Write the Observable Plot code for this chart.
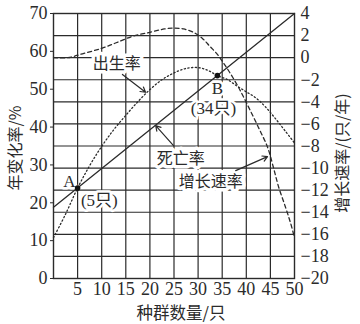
<!DOCTYPE html>
<html>
<head>
<meta charset="utf-8">
<script src="https://cdn.jsdelivr.net/npm/d3@7"></script>
<script src="https://cdn.jsdelivr.net/npm/@observablehq/plot@0.6"></script>
<style>
  html, body { margin: 0; padding: 0; background: #fff; }
</style>
</head>
<body>
<div id="chart"></div>
<script>
// 出生率 (%) against 种群数量 (只)
const birthRate = [
  [0, 10.8], [2.5, 17.0], [5, 23.9], [7.5, 29.8], [10, 34.9], [12.5, 39.3],
  [15, 43.1], [17.5, 46.7], [20, 49.9], [22.5, 52.5], [25, 54.3], [27.5, 55.5],
  [30, 55.7], [32, 55.0], [34, 53.6], [36, 52.6], [38, 50.9], [40, 49.3],
  [42, 47.7], [44, 45.3], [46, 42.3], [48, 39.1], [50, 35.8]
];
// 死亡率 (%) — straight line
const deathRate = [[0, 18.8], [50, 70]];
// 增长速率 (只/年), read on the right axis
const growthRate = [
  [0, 0], [3, 0], [6, 0.35], [10, 0.85], [13, 1.35], [16.5, 1.95], [20, 2.3],
  [23, 2.6], [25, 2.68], [27, 2.6], [29, 2.3], [31, 1.7], [32.5, 1.0], [34, 0.3],
  [35.3, -0.5], [36.5, -1.3], [38.4, -2.7], [40.5, -4.5], [42.5, -6.3],
  [44.4, -8.1], [45.6, -9.9], [46.7, -11.7], [48.1, -13.5], [49.2, -15], [50, -16.3]
];
// marked intersections
const markedPoints = [
  {x: 5, y: 23.9, name: "A", note: "(5只)"},
  {x: 34, y: 53.6, name: "B", note: "(34只)"}
];

// tick labels
const xTicks = [5, 10, 15, 20, 25, 30, 35, 40, 45, 50];
const leftTicks = [0, 10, 20, 30, 40, 50, 60, 70];
const rightTicks = [-20, -18, -16, -14, -12, -10, -8, -6, -4, -2, 0, 2, 4];

// text annotations (data coordinates, right-axis curve labels in left units)
const curveLabels = [
  {text: "出生率", x: 13.1, y: 56.8},
  {text: "死亡率", x: 26.4, y: 31.7},
  {text: "增长速率", x: 32.6, y: 25.4}
];
const pointerArrows = [
  {x1: 14.3, y1: 53.9, x2: 19.1, y2: 49.2},
  {x1: 24.9, y1: 35.1, x2: 21.2, y2: 40.4},
  {x1: 37.8, y1: 28.5, x2: 44.4, y2: 32.2}
];
const pointLabels = [
  {text: "A", x: 3.3, y: 25.6},
  {text: "(5只)", x: 9.5, y: 20.6},
  {text: "B", x: 34.0, y: 50.3},
  {text: "(34只)", x: 33.2, y: 45.0}
];

// right axis (-20 … 4 只/年) shares the frame with the left axis (0 … 70 %)
const rMin = -20, rMax = 4, lMax = 70;
const toLeft = v => (v - rMin) * lMax / (rMax - rMin);
const fromLeft = d => Math.round(d * (rMax - rMin) / lMax + rMin);
const signed = v => (v < 0 ? "\u2212" + Math.abs(v) : String(v));

const ink = "#2b2b2b";
const serif = "'Liberation Serif', 'Noto Sans CJK SC', serif";
const cjk = "'Noto Sans CJK SC', 'Liberation Serif', sans-serif";

const chart = Plot.plot({
  width: 360,
  height: 324,
  marginLeft: 53,
  marginRight: 66,
  marginTop: 13,
  marginBottom: 46,
  x: {domain: [0, 50]},
  y: {domain: [0, lMax]},
  style: {fontFamily: serif, fontSize: "18px", color: ink, background: "#fff", overflow: "visible"},
  marks: [
    // grid: vertical every 5 只, horizontal every 2 只/年
    Plot.ruleX(xTicks.filter(d => d < 50), {stroke: ink, strokeWidth: 1.2, strokeOpacity: 1}),
    Plot.ruleY(rightTicks.map(toLeft), {stroke: ink, strokeWidth: 1.2, strokeOpacity: 1}),
    Plot.frame({stroke: ink, strokeWidth: 1.4}),

    Plot.axisX(xTicks, {tickSize: 0, tickPadding: 4, label: null, fontFamily: serif}),
    Plot.axisY(leftTicks, {anchor: "left", tickSize: 3, tickPadding: 3, label: null, fontFamily: serif}),
    Plot.axisY(rightTicks.map(toLeft), {
      anchor: "right", tickSize: 0, tickPadding: 6, label: null, fontFamily: serif,
      tickFormat: d => signed(fromLeft(d))
    }),

    // axis titles
    Plot.text(["年变化率/%"], {frameAnchor: "left", textAnchor: "middle", dx: -38, dy: 2, rotate: -90,
      fontFamily: cjk, fontSize: 16, fill: ink}),
    Plot.text(["增长速率/(只/年)"], {frameAnchor: "right", textAnchor: "middle", dx: 48, dy: 7, rotate: -90,
      fontFamily: cjk, fontSize: 16, fill: ink}),
    Plot.text(["种群数量/只"], {frameAnchor: "bottom", textAnchor: "middle", dx: 7, dy: 35, lineAnchor: "middle",
      fontFamily: cjk, fontSize: 16.5, fill: ink}),

    // curve and point labels, knocked out of the grid
    Plot.text(curveLabels, {x: "x", y: "y", text: "text", fontFamily: cjk, fontSize: 16,
      fill: ink, stroke: "#fff", strokeWidth: 7, paintOrder: "stroke"}),
    Plot.text(pointLabels, {x: "x", y: "y", text: "text", fontFamily: serif, fontSize: 17,
      fill: ink, stroke: "#fff", strokeWidth: 5, paintOrder: "stroke"}),

    // series
    Plot.line(deathRate, {x: d => d[0], y: d => d[1], stroke: ink, strokeWidth: 1.3}),
    Plot.line(birthRate, {x: d => d[0], y: d => d[1], stroke: ink, strokeWidth: 1.3,
      strokeDasharray: "1.3 2.4", curve: "catmull-rom"}),
    Plot.line(growthRate, {x: d => d[0], y: d => toLeft(d[1]), stroke: ink, strokeWidth: 1.3,
      strokeDasharray: "4 3", curve: "catmull-rom"}),

    Plot.arrow(pointerArrows, {x1: "x1", y1: "y1", x2: "x2", y2: "y2",
      stroke: ink, strokeWidth: 1.2, headLength: 7, insetEnd: 0}),

    Plot.dot(markedPoints, {x: "x", y: "y", r: 2.8, fill: "#111", stroke: "none"})
  ]
});

document.getElementById("chart").appendChild(chart);
</script>
</body>
</html>
